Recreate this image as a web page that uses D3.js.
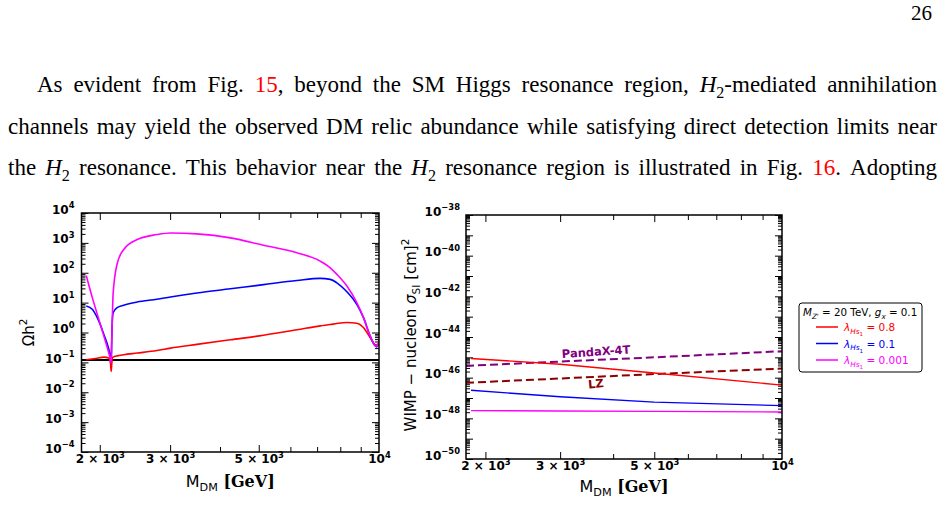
<!DOCTYPE html>
<html><head><meta charset="utf-8">
<script src="https://cdn.jsdelivr.net/npm/d3@7"></script>
<style>body{margin:0;background:#fff}svg{display:block}</style>
</head><body>
<svg id="c" width="945" height="520"></svg>
<script>
// ---------------- data ----------------
const relicMass   = [1850,1915,1970,2047,2106,2128,2136,2142,2150,2160,2211,2296,2481,2780,3006,3500,4246,5140,6230,7125,7550,7845,8310,8800,9140,9500,9775,9875,10000];
const relicLam08  = [0.123,0.13,0.138,0.15,0.14,0.09,0.05,0.08,0.145,0.15,0.165,0.18,0.205,0.25,0.30,0.40,0.57,0.81,1.23,1.67,1.85,2.0,2.15,2.05,1.47,0.68,0.38,0.34,0.44];
const relicLam01  = [7.7,6,3.2,0.88,0.28,0.15,0.1,0.5,2.5,4.6,6.8,8.2,10.5,13,15.5,21,29,40,55,65,60,46,23,8.8,3.2,0.77,0.36,0.33,0.46];
const relicLam0001= [81,15,4.2,0.77,0.21,0.12,0.095,0.4,3,20,200,600,1290,1900,2150,2000,1470,830,464,245,146,88,36,10,3.2,0.77,0.36,0.34,0.6];
const planckRelic = 0.12;

const ddMass       = [1850,3000,5000,10000];
const sigmaLam08   = [8.7e-46,4.6e-46,1.7e-46,4.3e-47];
const sigmaLam01   = [2.4e-47,1.15e-47,6.3e-48,4.2e-48];
const sigmaLam0001 = [2.4e-48,2.3e-48,2.2e-48,2.05e-48];
const limitMass    = [1800,3000,5000,10000];
const pandaxLimit  = [3.8e-46,6.2e-46,1.0e-45,2.0e-45];
const lzLimit      = [5.6e-47,9.1e-47,1.5e-46,2.8e-46];

const lambdaLabels = ["0.8","0.1","0.001"];
const seriesColors = ["#ff0000","#0000ff","#ff00ff"];
const xLabeledTicks = [2000,3000,5000,10000];
const xMinorTicks = [2000,3000,4000,5000,6000,7000,8000,9000];
const relicExps = [-4,-3,-2,-1,0,1,2,3,4];
const sigmaExps = [-50,-49,-48,-47,-46,-45,-44,-43,-42,-41,-40,-39,-38];
const sigmaLabelExps = [-50,-48,-46,-44,-42,-40,-38];

// ---------------- helpers ----------------
const svg = d3.select("#c");
const SANS = "DejaVu Sans";
const TFS = 12;
function rich(sel, parts, fs){
  let cur = 0;
  parts.forEach(p=>{
    const l = p.l||0;
    const off = l===0?0 : l===1?0.28*fs : l===2?0.5*fs : -0.45*fs;
    const size = l===0?fs : l===2?0.52*fs : 0.7*fs;
    const ts = sel.append("tspan").attr("dy", off-cur).attr("font-size", size).text(p.t);
    if(p.it) ts.attr("font-style","italic");
    if(p.b) ts.attr("font-weight","bold");
    if(p.f) ts.attr("font-family",p.f);
    if(p.c) ts.attr("fill",p.c);
    cur = off;
  });
  return sel;
}
const sup = (e)=> String(e).replace("-","\u2212");

// ---------------- paragraph text ----------------
const RED = "#ff0000";
const H2 = [{t:"H",it:1},{t:"2",l:1}];
const lines = [
  {x0:37, y:92, words:["As","evident","from","Fig.",[{t:"15",c:RED},{t:","}],"beyond","the","SM","Higgs","resonance","region,",[{t:"H",it:1},{t:"2",l:1},{t:"-mediated"}],"annihilation"]},
  {x0:8, y:134, words:"channels may yield the observed DM relic abundance while satisfying direct detection limits near".split(" ")},
  {x0:8, y:175, words:["the",H2,"resonance.","This","behavior","near","the",H2,"resonance","region","is","illustrated","in","Fig.",[{t:"16",c:RED},{t:"."}],"Adopting"]}
];
const PFS = 23;
lines.forEach(L=>{
  const els = L.words.map(w=>{
    const t = svg.append("text").attr("y",L.y).attr("font-family","Liberation Serif").attr("font-size",PFS).attr("fill","#000");
    rich(t, typeof w==="string"?[{t:w}]:w, PFS);
    return t;
  });
  const ws = els.map(e=>e.node().getComputedTextLength());
  const gap = (937 - L.x0 - d3.sum(ws))/(els.length-1);
  let x = L.x0;
  els.forEach((e,i)=>{ e.attr("x",x); x += ws[i]+gap; });
});
svg.append("text").attr("x",932).attr("y",20).attr("text-anchor","end")
  .attr("font-family","Liberation Serif").attr("font-size",21).text("26");

// ---------------- panel builder ----------------
function panel(o){
  const w = o.right-o.left, h = o.bottom-o.top;
  const g = svg.append("g").attr("transform",`translate(${o.left},${o.top})`);
  const x = d3.scaleLog().domain([1800,10000]).range([0,w]);
  const y = d3.scaleLog().domain(o.yDomain).range([h,0]);
  const minors = [];
  o.exps.slice(0,-1).forEach(e=>{ for(let m=2;m<=9;m++) minors.push(m*Math.pow(10,e)); });
  const majors = o.exps.map(e=>Math.pow(10,e));
  const tickStyle = s=>{ s.select(".domain").remove(); s.selectAll("line").attr("stroke","#000"); s.selectAll("text").remove(); };
  g.append("g").call(d3.axisLeft(y).tickValues(minors).tickSize(-4).tickSizeOuter(0)).call(tickStyle);
  g.append("g").call(d3.axisLeft(y).tickValues(majors).tickSize(-7).tickSizeOuter(0)).call(tickStyle);
  g.append("g").attr("transform",`translate(${w},0)`).call(d3.axisRight(y).tickValues(minors).tickSize(-4).tickSizeOuter(0)).call(tickStyle);
  g.append("g").attr("transform",`translate(${w},0)`).call(d3.axisRight(y).tickValues(majors).tickSize(-7).tickSizeOuter(0)).call(tickStyle);
  const xMin = xMinorTicks.filter(v=>!xLabeledTicks.includes(v));
  const xLab = xLabeledTicks.filter(v=>v<10000);
  g.append("g").attr("transform",`translate(0,${h})`).call(d3.axisBottom(x).tickValues(xMin).tickSize(-5).tickSizeOuter(0)).call(tickStyle);
  g.append("g").attr("transform",`translate(0,${h})`).call(d3.axisBottom(x).tickValues(xLab).tickSize(-7).tickSizeOuter(0)).call(tickStyle);
  g.append("g").call(d3.axisTop(x).tickValues(xMin).tickSize(-5).tickSizeOuter(0)).call(tickStyle);
  g.append("g").call(d3.axisTop(x).tickValues(xLab).tickSize(-7).tickSizeOuter(0)).call(tickStyle);
  const ya = g.append("g").call(d3.axisLeft(y).tickValues(o.labelExps.map(e=>Math.pow(10,e))).tickSize(0).tickPadding(o.ypad).tickFormat(()=>""));
  ya.select(".domain").remove();
  ya.selectAll(".tick text").each(function(d){
    const t = d3.select(this).attr("font-family",SANS).attr("font-weight","bold").attr("font-size",TFS).attr("fill","#000").attr("dy","0.36em");
    rich(t,[{t:"10"},{t:sup(Math.round(Math.log10(d))),l:-1}],TFS);
  });
  const xa = g.append("g").attr("transform",`translate(0,${h})`).call(d3.axisBottom(x).tickValues(xLabeledTicks).tickSize(0).tickPadding(o.xpad).tickFormat(()=>""));
  xa.select(".domain").remove();
  xa.selectAll(".tick text").each(function(d){
    const t = d3.select(this).attr("font-family",SANS).attr("font-weight","bold").attr("font-size",TFS).attr("fill","#000").attr("dy","0.71em");
    const e = Math.floor(Math.log10(d)+1e-9), m = Math.round(d/Math.pow(10,e));
    rich(t, m===1?[{t:"10"},{t:sup(e),l:-1}]:[{t:m+" \u00d7 10"},{t:sup(e),l:-1}], TFS);
  });
  const id = "clip"+Math.round(o.left);
  g.append("clipPath").attr("id",id).append("rect").attr("width",w).attr("height",h);
  const plot = g.append("g").attr("clip-path",`url(#${id})`);
  g.append("rect").attr("width",w).attr("height",h).attr("fill","none").attr("stroke","#000").attr("stroke-width",1.5);
  return {g,plot,x,y,w,h};
}

// ---------------- left panel: relic density ----------------
const L = panel({left:81.5,right:379,top:213,bottom:452,yDomain:[1e-4,1e4],exps:relicExps,labelExps:relicExps,ypad:7,xpad:11});
L.plot.append("line").attr("x1",0).attr("x2",L.w).attr("y1",L.y(planckRelic)).attr("y2",L.y(planckRelic))
  .attr("stroke","#000").attr("stroke-width",2);
const relicSeries = [relicLam08, relicLam01, relicLam0001];
const lineL = vals => d3.line().x((d,i)=>L.x(relicMass[i])).y(d=>L.y(d)).curve(d3.curveMonotoneX)(vals);
[0,1,2].forEach(i=>{
  L.plot.append("path").attr("d",lineL(relicSeries[i])).attr("fill","none").attr("stroke",seriesColors[i]).attr("stroke-width",1.6);
});
L.g.append("text").attr("transform",`translate(${-48},${L.h/2}) rotate(-90)`).attr("text-anchor","middle")
  .attr("font-family",SANS).attr("font-size",15).call(t=>rich(t,[{t:"\u03a9h"},{t:"2",l:-1}],15));
L.g.append("text").attr("x",L.w/2).attr("y",L.h+35).attr("text-anchor","middle").attr("font-size",16)
  .call(t=>rich(t,[{t:"M",f:SANS},{t:"DM",l:1,f:SANS},{t:" [GeV]",b:1,f:"DejaVu Serif"}],16));

// ---------------- right panel: direct detection ----------------
const R = panel({left:466,right:782,top:215,bottom:459,yDomain:[1e-50,1e-38],exps:sigmaExps,labelExps:sigmaLabelExps,ypad:6,xpad:11});
const lineR = (ms,vals) => d3.line().x((d,i)=>R.x(ms[i])).y(d=>R.y(d))(vals);
R.plot.append("path").attr("d",lineR(limitMass,pandaxLimit)).attr("fill","none").attr("stroke","#800080").attr("stroke-width",2).attr("stroke-dasharray","8,4");
R.plot.append("path").attr("d",lineR(limitMass,lzLimit)).attr("fill","none").attr("stroke","#8b0000").attr("stroke-width",2).attr("stroke-dasharray","8,4");
const sigmaSeries = [sigmaLam08, sigmaLam01, sigmaLam0001];
[0,1,2].forEach(i=>{
  R.plot.append("path").attr("d",lineR(ddMass,sigmaSeries[i])).attr("fill","none").attr("stroke",seriesColors[i]).attr("stroke-width",1.4);
});
R.g.append("text").attr("transform",`translate(${R.x(3650)},${R.y(1.2e-45)}) rotate(-4)`).attr("text-anchor","middle")
  .attr("font-family",SANS).attr("font-weight","bold").attr("font-size",11.5).attr("fill","#800080").text("PandaX-4T");
R.g.append("text").attr("transform",`translate(${R.x(3650)},${R.y(3.2e-47)}) rotate(-5)`).attr("text-anchor","middle")
  .attr("font-family",SANS).attr("font-weight","bold").attr("font-size",11.5).attr("fill","#8b0000").text("LZ");
R.g.append("text").attr("transform",`translate(${-50},${R.h/2-2}) rotate(-90)`).attr("text-anchor","middle")
  .attr("font-family",SANS).attr("font-size",15)
  .call(t=>rich(t,[{t:"WIMP \u2212 nucleon  "},{t:"\u03c3",it:1},{t:"SI",l:1},{t:" [cm]"},{t:"2",l:-1}],15));
R.g.append("text").attr("x",R.w/2).attr("y",R.h+33).attr("text-anchor","middle").attr("font-size",16)
  .call(t=>rich(t,[{t:"M",f:SANS},{t:"DM",l:1,f:SANS},{t:" [GeV]",b:1,f:"DejaVu Serif"}],16));

// ---------------- legend ----------------
const lg = svg.append("g").attr("transform","translate(799,303)");
lg.append("rect").attr("width",123).attr("height",69).attr("rx",3).attr("fill","#fff").attr("stroke","#000").attr("stroke-width",1);
lg.append("text").attr("x",4).attr("y",13).attr("font-family",SANS).attr("font-size",10.3)
  .call(t=>rich(t,[{t:"M",it:1},{t:"Z'",l:1,it:1},{t:" = 20 TeV,  "},{t:"g",it:1},{t:"x",l:1,it:1},{t:" = 0.1"}],10.3));
lambdaLabels.forEach((lab,i)=>{
  const yy = 24 + i*16.5;
  lg.append("line").attr("x1",17).attr("x2",39).attr("y1",yy).attr("y2",yy).attr("stroke",seriesColors[i]).attr("stroke-width",1.5);
  lg.append("text").attr("x",45).attr("y",yy+4).attr("font-family",SANS).attr("font-size",10.5).attr("fill",seriesColors[i])
    .call(t=>rich(t,[{t:"\u03bb",it:1},{t:"Hs",l:1,it:1},{t:"1",l:2},{t:" = "+lab}],10.5));
});
</script>
</body></html>
